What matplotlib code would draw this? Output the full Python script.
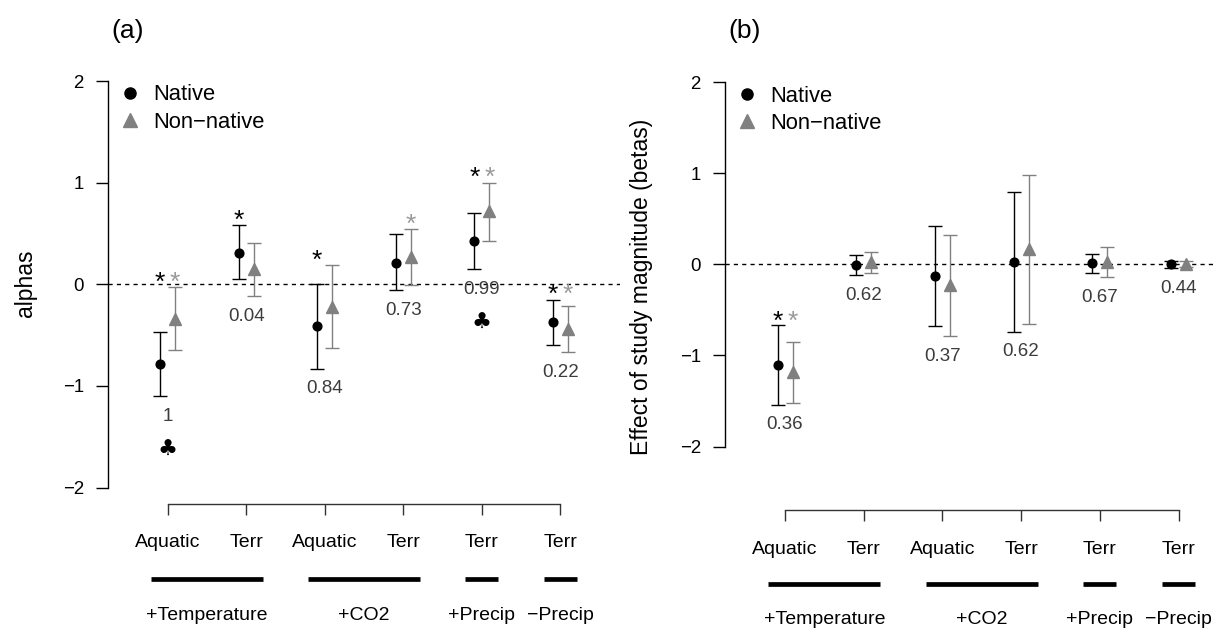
import matplotlib
matplotlib.use("Agg")
import matplotlib.pyplot as plt
from matplotlib.lines import Line2D
import numpy as np

plt.rcParams['font.family'] = ['Liberation Sans', 'DejaVu Sans']

# ---- categories ---------------------------------------------------------
habitat = ["Aquatic", "Terr", "Aquatic", "Terr", "Terr", "Terr"]
treatment = ["+Temperature", "+Temperature", "+CO2", "+CO2", "+Precip", "\u2212Precip"]

# ---- panel (a): alphas --------------------------------------------------
alpha_nat = [-0.78, 0.31, -0.41, 0.21, 0.43, -0.37]
alpha_nat_lo = [-1.10, 0.05, -0.83, -0.06, 0.15, -0.60]
alpha_nat_hi = [-0.47, 0.58, 0.00, 0.49, 0.70, -0.15]
alpha_non = [-0.34, 0.15, -0.22, 0.27, 0.72, -0.44]
alpha_non_lo = [-0.65, -0.12, -0.63, -0.01, 0.43, -0.67]
alpha_non_hi = [-0.03, 0.41, 0.19, 0.54, 1.00, -0.21]
alpha_p = ["1", "0.04", "0.84", "0.73", "0.99", "0.22"]
alpha_sig_nat = [True, True, True, False, True, True]
alpha_sig_non = [True, False, False, True, True, True]
alpha_club = [True, False, False, False, True, False]

# ---- panel (b): betas ---------------------------------------------------
beta_nat = [-1.10, -0.01, -0.13, 0.03, 0.01, 0.00]
beta_nat_lo = [-1.54, -0.12, -0.68, -0.74, -0.10, -0.04]
beta_nat_hi = [-0.67, 0.10, 0.42, 0.79, 0.11, 0.04]
beta_non = [-1.18, 0.02, -0.23, 0.17, 0.03, 0.00]
beta_non_lo = [-1.52, -0.10, -0.79, -0.65, -0.14, -0.03]
beta_non_hi = [-0.85, 0.14, 0.32, 0.98, 0.19, 0.04]
beta_p = ["0.36", "0.62", "0.37", "0.62", "0.67", "0.44"]
beta_sig_nat = [True, False, False, False, False, False]
beta_sig_non = [True, False, False, False, False, False]
beta_club = [False, False, False, False, False, False]

NATIVE = "black"
NONNAT = "#808080"
NONNAT_STAR = "#9a9a9a"
PCOL = "#3c3c3c"

W, H = 1216, 629
fig = plt.figure(figsize=(W / 100, H / 100), dpi=100)


def px_axes(l, t, r, b):
    return fig.add_axes([l / W, 1 - b / H, (r - l) / W, (b - t) / H])


def draw_panel(box, x0, dx, y0, dy, cat, nat, nat_lo, nat_hi, non, non_lo,
               non_hi, pvals, sig_nat, sig_non, club, ylabel, ylab_xy,
               title, title_xy, legend_xy):
    left, top, right, bottom = box
    pos = np.arange(1, len(habitat) + 1)
    xlim = ((left - x0) / dx + 1, (right - x0) / dx + 1)
    ylim = ((y0 - bottom) / dy, (y0 - top) / dy)
    off = 7.5 / dx

    ax = px_axes(left, top, right, bottom)
    ax.set_xlim(xlim)
    ax.set_ylim(ylim)
    ax.patch.set_visible(False)
    for s in ["top", "right", "bottom"]:
        ax.spines[s].set_visible(False)
    ax.spines["left"].set_bounds(-2, 2)
    ax.spines["left"].set_linewidth(1.0)
    ax.set_xticks([])
    ax.set_yticks([-2, -1, 0, 1, 2])
    ax.tick_params(axis="y", length=9, width=1.0, pad=8.5, labelsize=13.4)

    ax.axhline(0, color="black", lw=1.0, ls=(0, (3, 3)), zorder=1)

    nat = np.asarray(nat); non = np.asarray(non)
    nat_lo = np.asarray(nat_lo); nat_hi = np.asarray(nat_hi)
    non_lo = np.asarray(non_lo); non_hi = np.asarray(non_hi)

    ax.errorbar(pos - off, nat, yerr=[nat - nat_lo, nat_hi - nat], fmt="o",
                ms=6.3, color=NATIVE, ecolor=NATIVE, elinewidth=1.0,
                capsize=5, capthick=1.0, zorder=3)
    ax.errorbar(pos + off, non, yerr=[non - non_lo, non_hi - non], fmt="^",
                ms=8.2, color=NONNAT, ecolor=NONNAT, elinewidth=1.0,
                capsize=5, capthick=1.0, zorder=3)

    # significance stars just above the taller interval of each pair
    star_fs = 19
    top_y = np.maximum(nat_hi, non_hi) + 0.09
    for i, p in enumerate(pos):
        if sig_nat[i]:
            ax.annotate("*", (p - off, top_y[i]), xytext=(0, -0.44 * star_fs),
                        textcoords="offset points", ha="center", va="baseline",
                        fontsize=star_fs, color=NATIVE)
        if sig_non[i]:
            ax.annotate("*", (p + off, top_y[i]), xytext=(0, -0.44 * star_fs),
                        textcoords="offset points", ha="center", va="baseline",
                        fontsize=star_fs, color=NONNAT_STAR)

    # p-values below each pair, club marks further down
    p_fs = 13.5
    low_y = np.minimum(nat_lo, non_lo) - 18.0 / dy
    for i, p in enumerate(pos):
        ax.annotate(pvals[i], (p, low_y[i]), xytext=(0, -0.36 * p_fs),
                    textcoords="offset points", ha="center", va="baseline",
                    fontsize=p_fs, color=PCOL)
        if club[i]:
            ax.annotate("\u2663", (p, low_y[i] - 33.5 / dy),
                        xytext=(0, -0.37 * 16), textcoords="offset points",
                        ha="center", va="baseline", fontsize=16,
                        family=["DejaVu Sans"], color="black")

    handles = [Line2D([], [], ls="none", marker="o", ms=8.0, color=NATIVE),
               Line2D([], [], ls="none", marker="^", ms=10.5, color=NONNAT)]
    lx, ly = legend_xy
    fig.legend(handles, ["Native", "Non\u2212native"], loc="upper left",
               bbox_to_anchor=(lx / W, 1 - ly / H), frameon=False,
               fontsize=15.8, handlelength=1.0, handletextpad=0.56,
               borderpad=0, borderaxespad=0, labelspacing=0.28)

    fig.text(ylab_xy[0] / W, 1 - ylab_xy[1] / H, ylabel, rotation=90,
             ha="center", va="center", fontsize=16.5)
    fig.text(title_xy[0] / W, 1 - title_xy[1] / H, title, ha="center",
             va="center", fontsize=19)

    # category axis underneath: habitat ticks, treatment bars and names
    cat_top, lab_base, bar_y, grp_base = cat
    cax = px_axes(left, cat_top, right, H)
    cax.set_xlim(xlim)
    cax.set_ylim(H, cat_top)
    cax.patch.set_visible(False)
    for s in ["left", "right", "bottom"]:
        cax.spines[s].set_visible(False)
    cax.spines["top"].set_bounds(pos[0], pos[-1])
    cax.spines["top"].set_linewidth(1.0)
    cax.spines["top"].set_color("#333333")
    cax.xaxis.set_ticks_position("top")
    cax.set_xticks(pos)
    cax.tick_params(axis="x", direction="in", length=8, width=1.0,
                    color="#333333", labeltop=False, labelbottom=False)
    cax.set_yticks([])
    for p, h in zip(pos, habitat):
        cax.text(p, lab_base, h, ha="center", va="baseline", fontsize=14)
    groups = []
    for p, t in zip(pos, treatment):
        if groups and groups[-1][0] == t:
            groups[-1][1].append(p)
        else:
            groups.append((t, [p]))
    for t, members in groups:
        cax.hlines(bar_y, members[0] - 0.21, members[-1] + 0.21, color="black",
                   lw=3.4, capstyle="butt")
        cax.text(np.mean(members), grp_base, t, ha="center", va="baseline",
                 fontsize=14)


draw_panel((108, 40, 620, 500), 167.5, 78.6, 284.3, 101.65,
           (504, 547.3, 579, 620),
           alpha_nat, alpha_nat_lo, alpha_nat_hi,
           alpha_non, alpha_non_lo, alpha_non_hi,
           alpha_p, alpha_sig_nat, alpha_sig_non, alpha_club,
           "alphas", (26, 283), "(a)", (128, 31), (118.8, 84.5))

draw_panel((725, 40, 1216, 500), 785, 78.7, 264.3, 91.1,
           (510, 554, 583.7, 624.5),
           beta_nat, beta_nat_lo, beta_nat_hi,
           beta_non, beta_non_lo, beta_non_hi,
           beta_p, beta_sig_nat, beta_sig_non, beta_club,
           "Effect of study magnitude (betas)", (641.5, 287), "(b)", (745, 31),
           (735.7, 85.5))

fig.savefig("out.png", dpi=100)
